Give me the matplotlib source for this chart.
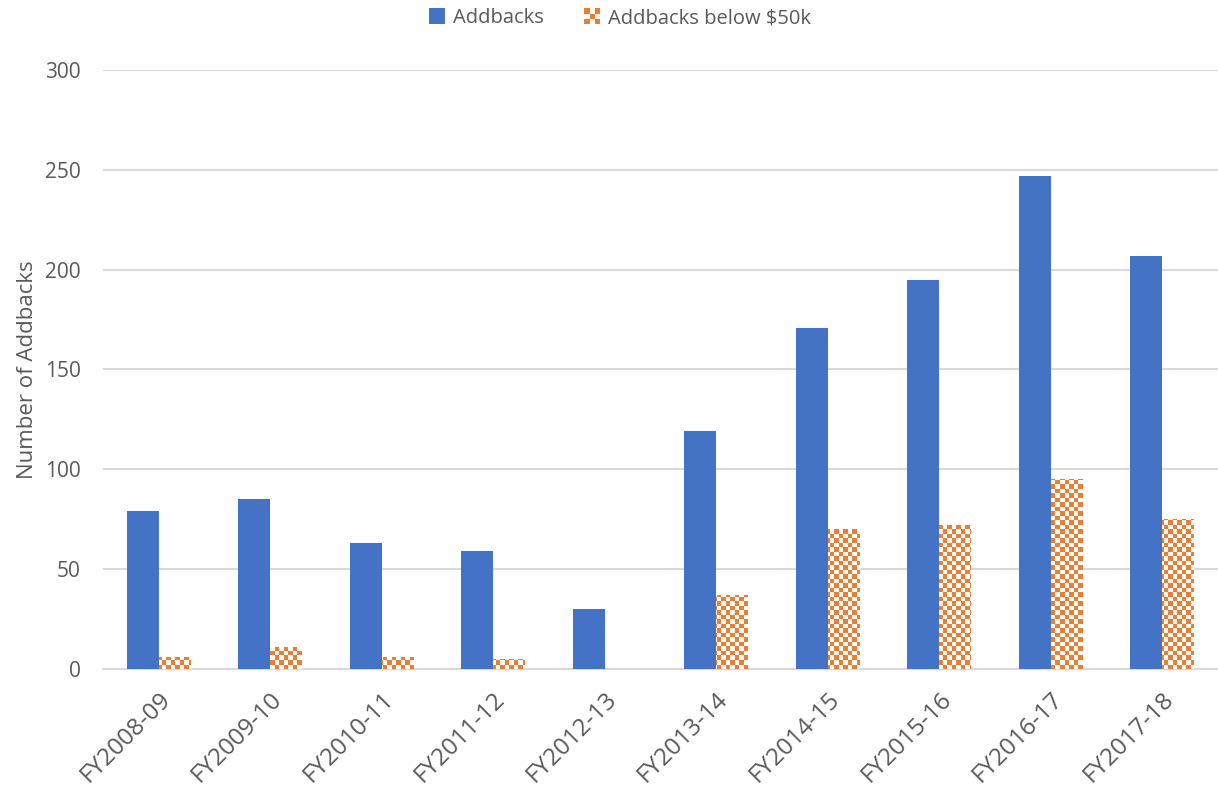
import numpy as np
import matplotlib

matplotlib.use("Agg")
import matplotlib.pyplot as plt
from matplotlib.path import Path
from matplotlib.patches import PathPatch, Rectangle
from matplotlib.legend_handler import HandlerBase

years = ["FY2008-09", "FY2009-10", "FY2010-11", "FY2011-12", "FY2012-13",
         "FY2013-14", "FY2014-15", "FY2015-16", "FY2016-17", "FY2017-18"]
addbacks = [79, 85, 63, 59, 30, 119, 171, 195, 247, 207]
addbacks_below_50k = [6, 11, 6, 5, 0, 37, 70, 72, 95, 75]

BLUE = "#4472C4"
ORANGE = "#ED7D31"
GRID = "#D9D9D9"
TEXT = "#595959"

plt.rcParams["font.family"] = ["Open Sans", "DejaVu Sans"]


def checker_rgba(rows, cols, color):
    rgb = matplotlib.colors.to_rgb(color)
    img = np.ones((rows, cols, 4))
    mask = (np.add.outer(np.arange(rows), np.arange(cols)) % 2) == 0
    img[mask, :3] = rgb
    return img


class CheckerHandler(HandlerBase):
    def create_artists(self, legend, orig_handle, xdescent, ydescent,
                       width, height, fontsize, trans):
        side = min(width, height)
        x0 = -xdescent + (width - side) / 2
        y0 = -ydescent + (height - side) / 2
        n = 3
        s = side / n
        arts = []
        for i in range(n):
            for j in range(n):
                if (i + j) % 2 == 0:
                    arts.append(Rectangle((x0 + j * s, y0 + i * s), s, s,
                                          facecolor=ORANGE, edgecolor="none",
                                          transform=trans))
        return arts


fig = plt.figure(figsize=(12.18, 7.87), dpi=100)
ax = fig.add_axes([0.0846, 0.150, 0.9154, 0.761])

x = np.arange(len(years))
w = 0.287
blue_bars = ax.bar(x - w / 2, addbacks, w, color=BLUE, zorder=3)
orange_bars = ax.bar(x + w / 2, addbacks_below_50k, w, facecolor="none",
                     edgecolor="none", zorder=3)

ax.set_xlim(-0.5, len(years) - 0.5)
ax.set_ylim(0, 300)
ax.set_yticks(range(0, 301, 50))

# checkerboard fill for the second series: one image clipped to all bars
fig.canvas.draw()
bbox = ax.get_window_extent()
cell = 4.5
cols = int(bbox.width / cell)
rows = int(bbox.height / cell)
compound = Path.make_compound_path(*[b.get_path().transformed(b.get_patch_transform())
                                     for b in orange_bars])
clip = PathPatch(compound, transform=ax.transData, facecolor="none", edgecolor="none")
ax.add_patch(clip)
img = ax.imshow(checker_rgba(rows, cols, ORANGE), extent=(-0.5, len(years) - 0.5, 0, 300),
                aspect="auto", interpolation="nearest", origin="lower", zorder=3)
img.set_clip_path(clip)

ax.grid(axis="y", color=GRID, lw=1.5, zorder=0)
for side in ["top", "right", "left"]:
    ax.spines[side].set_visible(False)
ax.spines["bottom"].set_color(GRID)
ax.spines["bottom"].set_linewidth(1.5)
ax.tick_params(axis="both", length=0, colors=TEXT, labelsize=15)
ax.tick_params(axis="y", pad=16)
ax.set_xticks(x)
ax.set_xticklabels(years, rotation=45, ha="right", rotation_mode="anchor", fontsize=17.5)
ax.tick_params(axis="x", pad=13)
ax.set_ylabel("Number of Addbacks", color=TEXT, fontsize=16, labelpad=5)

fig.legend([blue_bars, orange_bars], ["Addbacks", "Addbacks below $50k"],
           handler_map={orange_bars: CheckerHandler()},
           loc="center", bbox_to_anchor=(0.509, 0.977), ncol=2, frameon=False,
           fontsize=14.5, labelcolor=TEXT, handlelength=0.8, handleheight=0.8,
           handletextpad=0.4, columnspacing=2.0)

fig.savefig("out.png", dpi=100)
